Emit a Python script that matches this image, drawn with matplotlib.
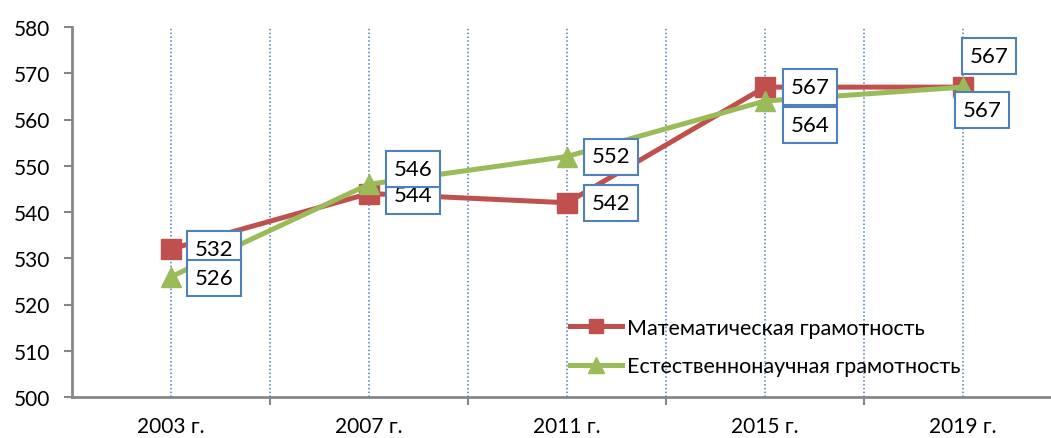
import matplotlib.pyplot as plt
import numpy as np

plt.rcParams['font.family'] = ['Lato', 'DejaVu Sans']

years = ['2003 г.', '2007 г.', '2011 г.', '2015 г.', '2019 г.']
math_lit = [532, 544, 542, 567, 567]
sci_lit = [526, 546, 552, 564, 567]
math_name = 'Математическая грамотность'
sci_name = 'Естественнонаучная грамотность'

red = '#c0504d'
green = '#9bbb59'
blue = '#4f81bd'
grey = '#868686'

# label offsets in pixels (dx, dy) for each point
math_off = [(43, 0), (44, -2), (44, 0), (45, 0), (26, 31)]
sci_off = [(43, -1), (44, 15), (44, 0), (45, -24), (19, -23)]

fig = plt.figure(figsize=(10.51, 4.39), dpi=100)
# the plot area runs past the right edge of the image
ax = fig.add_axes([72 / 1051, 41 / 439, 990 / 1051, 370 / 439])

x = np.arange(len(years))
ax.plot(x, math_lit, color=red, lw=3.6, marker='s', ms=14, label=math_name, zorder=3)
ax.plot(x, sci_lit, color=green, lw=3.6, marker='^', ms=15, label=sci_name, zorder=4)

ax.set_xlim(-0.5, 4.5)
ax.set_ylim(500, 580)
ax.set_yticks(range(500, 581, 10))

# dotted verticals at centers and between categories
for gx in np.arange(0, 4.6, 0.5):
    ax.axvline(gx, color='#4a7ebb', ls=(0, (1, 1.5)), lw=1.1, zorder=1)

ax.set_xticks(np.arange(0.5, 4.5, 1.0))
ax.set_xticklabels([])
ax.set_xticks(x, minor=True)
ax.set_xticklabels(years, minor=True, fontsize=15)
ax.tick_params(axis='x', which='major', length=6, width=1.5, color=grey, direction='out')
ax.tick_params(axis='x', which='minor', length=0, pad=14)
ax.tick_params(axis='y', length=6, width=1.5, color=grey, labelsize=15, pad=10)

for s in ['top', 'right']:
    ax.spines[s].set_visible(False)
for s in ['left', 'bottom']:
    ax.spines[s].set_color(grey)
    ax.spines[s].set_linewidth(2)

box = dict(boxstyle='square,pad=0.36', fc='white', ec=blue, lw=1.5)
for vals, offs in ((math_lit, math_off), (sci_lit, sci_off)):
    for xi, v, (dx, dy) in zip(x, vals, offs):
        ax.annotate(str(v), (xi, v), xytext=(dx * 0.72, dy * 0.72),
                    textcoords='offset points', ha='center', va='center',
                    fontsize=16, bbox=box, zorder=6)

ax.legend(loc='center left', bbox_to_anchor=(498 / 990, 0.135), frameon=False,
          fontsize=15.5, handlelength=2.4, handletextpad=0.25, labelspacing=0.85,
          markerscale=0.75, borderaxespad=0, borderpad=0)

fig.savefig('out.png', dpi=100)
